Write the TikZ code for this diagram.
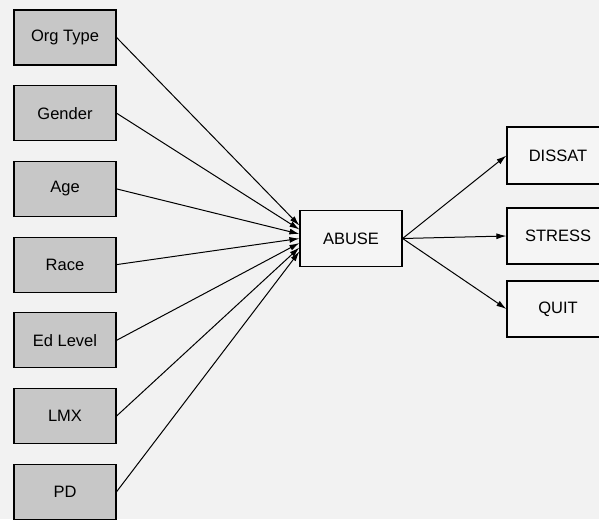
\documentclass[tikz,border=0pt]{standalone}
\usepackage{fontspec}
\setmainfont{Liberation Sans}
\usepackage{tikz}
\usetikzlibrary{arrows.meta}

\begin{document}
\begin{tikzpicture}[every node/.style={font=\fontsize{16.5}{19}\selectfont},
  cause/.style={draw, line width=1.2pt, fill=black!22, minimum width=102pt, minimum height=55pt, inner sep=0pt},
  effect/.style={draw, line width=1.2pt, fill=white!96!black, minimum width=102pt, minimum height=56pt, inner sep=0pt},
  link/.style={line width=1pt, -{Latex[length=10pt,width=6pt]}},
  node distance=75.7pt]
\clip (0,0) rectangle (599pt,-519pt);
\fill[black!5] (0,0) rectangle (599pt,-519pt);

\node[cause](OT) at (65pt,-37.5pt){Org Type};
\node[cause, below of=OT](GEN){Gender};
\node[cause, below of=GEN](AGE){Age};
\node[cause, below of=AGE](RACE){Race};
\node[cause, below of=RACE](ED){Ed Level};
\node[cause, below of=ED](LMX){LMX};
\node[cause, below of=LMX](PD){PD};

\node[effect](AB) at (351pt,-238.5pt){ABUSE};

\node[effect, minimum height=57pt](DIS) at (558pt,-155.5pt){DISSAT};
\node[effect, below of=DIS, node distance=80.5pt](STR){STRESS};
\node[effect, below of=STR, node distance=73pt](QUIT){QUIT};

\foreach \src/\dy in {OT/13, GEN/9, AGE/4.5, RACE/0, ED/-4.5, LMX/-9, PD/-13}
  \draw[link] (\src.east) -- ([yshift=\dy pt]AB.west);

\draw[link] (AB.east) -- (DIS.west);
\draw[link] (AB.east) -- (STR.west);
\draw[link] (AB.east) -- (QUIT.west);
\end{tikzpicture}
\end{document}
